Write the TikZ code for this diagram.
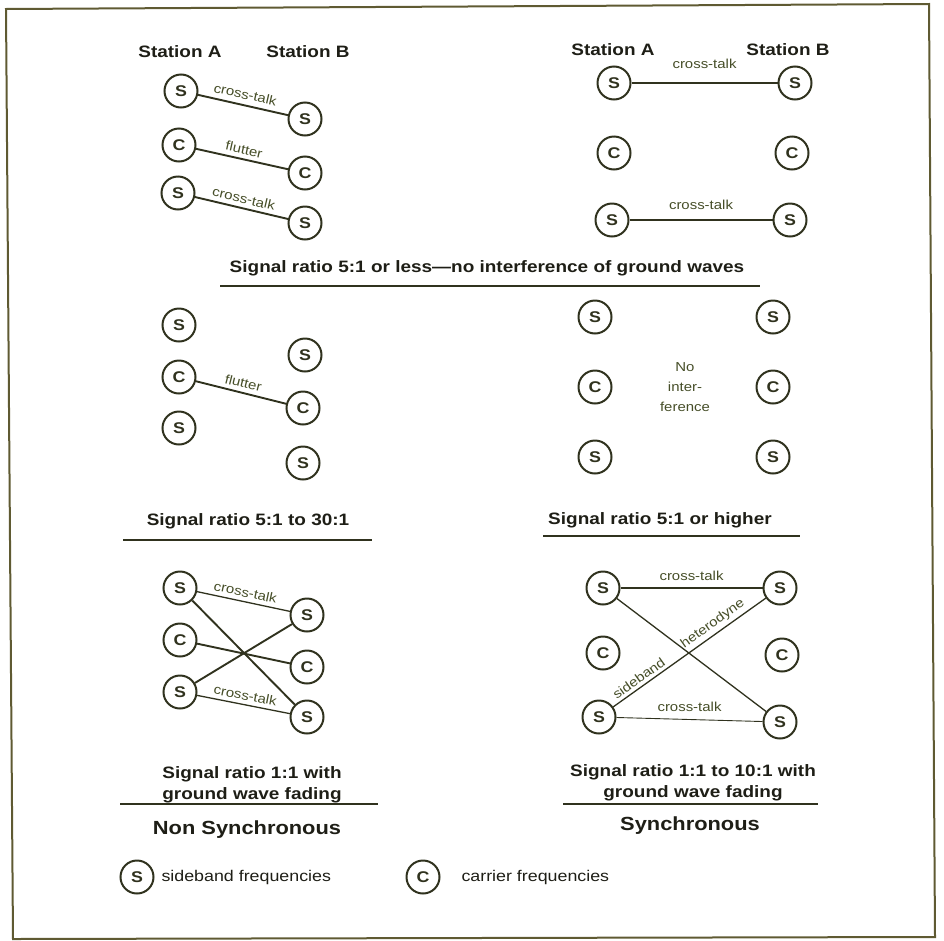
\documentclass[tikz,border=0pt]{standalone}
\usepackage{fontspec}
\setmainfont{Liberation Sans}[FakeStretch=1.15]
\definecolor{ink}{RGB}{48,50,30}
\definecolor{labc}{RGB}{70,78,40}
\definecolor{headc}{RGB}{30,30,22}
\definecolor{framec}{RGB}{95,90,50}
\begin{document}
\begin{tikzpicture}[x=1pt,y=-1pt,
 sc/.style={circle,draw=ink,line width=2pt,minimum size=33pt,inner sep=0pt,font=\fontsize{15.5}{15}\selectfont\bfseries,text=ink},
 conn/.style={draw=ink,line width=1.9pt},
 thinconn/.style={draw=ink,line width=1.3pt},
 lbl/.style={font=\fontsize{13}{15}\selectfont,text=labc,inner sep=1pt},
 head/.style={font=\fontsize{16.5}{21}\selectfont\bfseries,text=headc,align=center},
 big/.style={font=\fontsize{19}{21}\selectfont\bfseries,text=headc},
 legtext/.style={font=\fontsize{15.5}{18}\selectfont,text=headc,anchor=west},
 rulel/.style={draw=ink,line width=1.3pt}]
\useasboundingbox (0,0) rectangle (944,940);
\draw[draw=framec,line width=2pt] (6,9) -- (929,4) -- (935,937) -- (13,939) -- cycle;

% Panel 1: non synchronous, ratio 5:1 or less
\node[head] (p1sa) at (180,52) {Station A};
\node[head] (p1sb) at (308,52) {Station B};
\node[sc] (p1a1) at (181,91) {S};
\node[sc] (p1b1) at (305,119) {S};
\node[sc] (p1a2) at (179,145) {C};
\node[sc] (p1b2) at (305,173) {C};
\node[sc] (p1a3) at (178,193) {S};
\node[sc] (p1b3) at (305,223) {S};
\draw[conn] (p1a1) -- node[lbl,sloped,above=4pt] (p1l1) {cross-talk} (p1b1);
\draw[conn] (p1a2) -- node[lbl,sloped,above=3pt] (p1l2) {flutter} (p1b2);
\draw[conn] (p1a3) -- node[lbl,sloped,above=3pt] (p1l3) {cross-talk} (p1b3);

% Panel 2: synchronous, ratio 5:1 or less
\node[head] (p2sa) at (613,50) {Station A};
\node[head] (p2sb) at (788,50) {Station B};
\node[sc] (p2a1) at (614,83) {S};
\node[sc] (p2b1) at (795,83) {S};
\node[sc] (p2a2) at (614,153) {C};
\node[sc] (p2b2) at (792,153) {C};
\node[sc] (p2a3) at (612,220) {S};
\node[sc] (p2b3) at (790,220) {S};
\draw[conn] (p2a1) -- node[lbl,above=12pt] (p2l1) {cross-talk} (p2b1);
\draw[conn] (p2a3) -- node[lbl,above=8pt] (p2l3) {cross-talk} (p2b3);

\node[head] (t1) at (487,268) {Signal ratio 5:1 or less—no interference of ground waves};
\draw[rulel] (220,286) -- (760,286);

% Panel 3
\node[sc] (p3a1) at (179,325) {S};
\node[sc] (p3a2) at (179,377) {C};
\node[sc] (p3a3) at (179,428) {S};
\node[sc] (p3b1) at (305,355) {S};
\node[sc] (p3b2) at (303,408) {C};
\node[sc] (p3b3) at (303,463) {S};
\draw[conn] (p3a2) -- node[lbl,sloped,above=3pt] (p3l2) {flutter} (p3b2);
\node[head] (t3) at (248,521) {Signal ratio 5:1 to 30:1};
\draw[rulel] (123,540) -- (372,540);

% Panel 4
\node[sc] (p4a1) at (595,317) {S};
\node[sc] (p4a2) at (595,387) {C};
\node[sc] (p4a3) at (595,457) {S};
\node[sc] (p4b1) at (773,317) {S};
\node[sc] (p4b2) at (773,387) {C};
\node[sc] (p4b3) at (773,457) {S};
\node[lbl,align=center,font=\fontsize{13}{20}\selectfont] (p4no) at (685,387) {No\\inter-\\ference};
\node[head] (t4) at (660,520) {Signal ratio 5:1 or higher};
\draw[rulel] (543,536) -- (800,536);

% Panel 5
\node[sc] (p5a1) at (180,588) {S};
\node[sc] (p5a2) at (180,640) {C};
\node[sc] (p5a3) at (180,692) {S};
\node[sc] (p5b1) at (307,615) {S};
\node[sc] (p5b2) at (307,667) {C};
\node[sc] (p5b3) at (307,717) {S};
\draw[thinconn] (p5a1) -- node[lbl,sloped,above=3pt] (p5l1) {cross-talk} (p5b1);
\draw[conn] (p5a1) -- (p5b3);
\draw[conn] (p5a2) -- (p5b2);
\draw[conn] (p5a3) -- (p5b1);
\draw[thinconn] (p5a3) -- node[lbl,sloped,above=3pt] (p5l3) {cross-talk} (p5b3);
\node[head] (t5) at (252,785) {Signal ratio 1:1 with\\ground wave fading};
\draw[rulel] (120,804) -- (378,804);
\node[big] (ns) at (247,830) {Non Synchronous};

% Panel 6
\node[sc] (p6a1) at (603,588) {S};
\node[sc] (p6a2) at (603,653) {C};
\node[sc] (p6a3) at (599,717) {S};
\node[sc] (p6b1) at (780,588) {S};
\node[sc] (p6b2) at (782,655) {C};
\node[sc] (p6b3) at (780,722) {S};
\draw[thinconn] (p6a1) -- node[lbl,above=6pt] (p6l1) {cross-talk} (p6b1);
\draw[thinconn] (p6a1) -- (p6b3);
\draw[thinconn] (p6a3) -- node[lbl,sloped,above=2pt,pos=0.2] (p6sb) {sideband}
                           node[lbl,sloped,above=2pt,pos=0.69] (p6het) {heterodyne} (p6b1);
\draw[draw=ink,line width=0.9pt] (p6a3) -- node[lbl,above=6pt] (p6l3) {cross-talk} (p6b3);
\node[head] (t6) at (693,783) {Signal ratio 1:1 to 10:1 with\\ground wave fading};
\draw[rulel] (563,804) -- (818,804);
\node[big] (sy) at (690,826) {Synchronous};

% Legend
\node[sc] (legs) at (137,877) {S};
\node[legtext] (legst) at (158,877) {sideband frequencies};
\node[sc] (legc) at (423,877) {C};
\node[legtext] (legct) at (458,877) {carrier frequencies};
\end{tikzpicture}
\end{document}
